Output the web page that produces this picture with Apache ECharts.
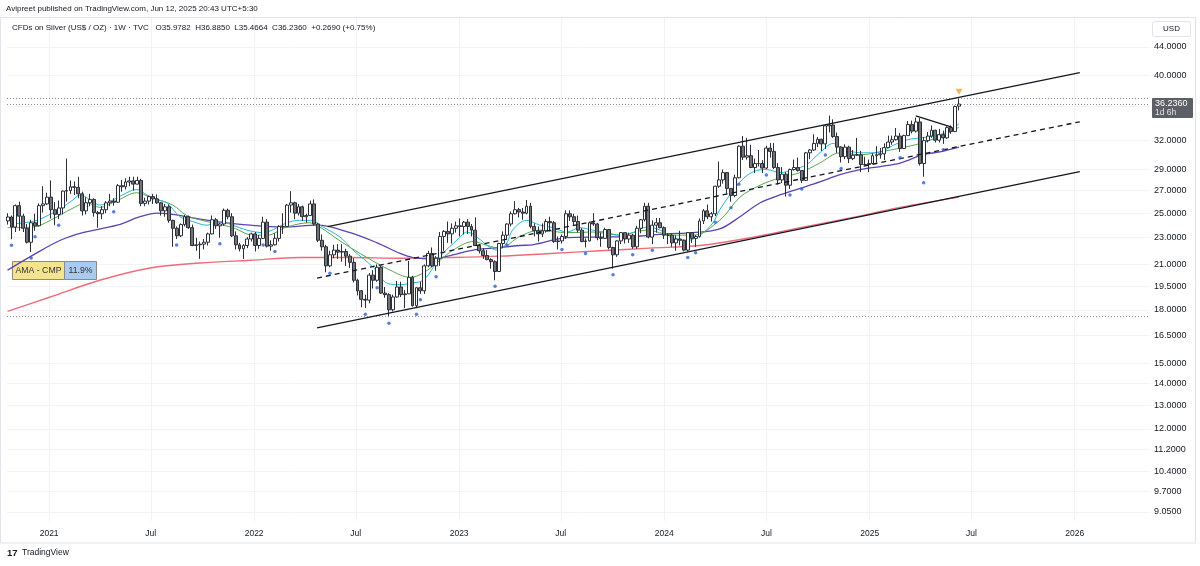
<!DOCTYPE html>
<html>
<head>
<meta charset="utf-8">
<title>CFDs on Silver 1W</title>
<script src="https://cdn.jsdelivr.net/npm/echarts@6/dist/echarts.min.js"></script>
<style>
html, body { margin: 0; padding: 0; background: #fff; }
#chart { width: 1200px; height: 566px; }
</style>
</head>
<body>
<div id="chart"></div>
<script type="text/javascript">
// first Monday of each yearly block of weekly candles
var weekStart = { 2020: '2020-10-19', 2021: '2021-01-04', 2022: '2022-01-03', 2023: '2023-01-02', 2024: '2024-01-01', 2025: '2025-01-06' };

// weekly candles, one row per week: [open, high, low, close]
var candles2020 = [
  [24.35,25.00,24.05,24.68],[24.68,24.80,22.88,23.85],
  [23.85,25.75,23.45,25.65],[25.65,26.00,23.55,24.75],[24.75,24.95,23.45,23.75],[23.75,24.10,22.55,22.65],[22.65,24.45,21.90,24.20],
  [24.20,24.95,23.55,23.95],[23.95,25.85,23.90,25.65],[25.65,27.40,25.05,25.80],[25.80,26.80,25.70,26.40]
];
var candles2021 = [
  [26.40,27.95,24.55,25.30],[25.30,25.95,24.00,24.90],[24.90,26.10,24.50,25.45],[25.45,27.00,24.90,26.95],
  [26.95,30.10,26.00,27.00],[27.00,27.95,26.70,27.35],[27.35,27.85,26.60,27.30],[27.30,28.30,26.30,26.70],
  [26.70,26.90,24.80,25.20],[25.20,26.40,24.90,25.90],[25.90,26.70,25.60,26.20],[26.20,26.30,24.70,25.05],[25.05,25.20,23.80,24.95],
  [24.95,25.60,24.50,25.30],[25.30,26.05,25.00,25.90],[25.90,26.70,25.60,26.05],[26.05,26.30,25.65,25.95],
  [25.95,27.60,25.90,27.45],[27.45,28.00,26.90,27.35],[27.35,28.15,27.10,27.80],[27.80,28.30,27.40,27.90],[27.90,28.30,27.00,27.60],
  [27.60,28.30,27.55,27.95],[27.95,28.10,25.60,25.85],[25.85,26.35,25.60,26.05],[26.05,26.55,25.75,26.45],
  [26.45,26.70,25.80,26.25],[26.25,26.65,25.80,25.90],[25.90,25.95,24.80,25.20],[25.20,25.80,24.70,25.55],
  [25.55,25.75,24.20,24.40],[24.40,24.45,22.30,23.75],[23.75,23.90,22.90,23.15],[23.15,24.15,23.05,24.05],[24.05,24.85,23.90,24.70],
  [24.70,24.80,23.70,23.80],[23.80,24.05,22.35,22.40],[22.40,23.00,22.00,22.45],[22.45,22.70,21.40,22.50],
  [22.50,22.90,22.10,22.65],[22.65,23.40,22.40,23.30],[23.30,24.80,23.25,24.45],[24.45,24.60,23.70,23.95],
  [23.95,24.20,23.00,24.10],[24.10,25.40,23.95,25.25],[25.25,25.40,24.50,24.70],[24.70,25.00,23.05,23.15],[23.15,23.50,22.10,22.45],
  [22.45,22.60,21.95,22.15],[22.15,22.50,21.40,22.40],[22.40,23.05,22.20,22.90],[22.90,23.40,22.70,23.30]
];
var candles2022 = [
  [23.30,23.45,21.95,22.40],[22.40,23.20,22.15,22.95],[22.95,24.70,22.90,24.25],[24.25,24.50,22.25,22.35],[22.35,22.80,22.00,22.45],
  [22.45,23.35,22.40,22.95],[22.95,24.00,22.70,23.90],[23.90,25.00,23.30,23.90],[23.90,25.80,23.90,25.70],
  [25.70,26.95,25.05,25.90],[25.90,26.00,24.50,25.00],[25.00,25.80,24.80,25.55],[25.55,25.65,24.35,24.70],
  [24.70,24.95,24.20,24.80],[24.80,26.10,24.80,25.80],[25.80,26.20,24.00,24.10],[24.10,24.20,22.65,22.80],
  [22.80,23.25,22.00,22.30],[22.30,22.45,20.45,20.90],[20.90,22.00,20.80,21.70],[21.70,22.45,21.45,22.05],[22.05,22.50,21.40,21.90],
  [21.90,22.50,21.20,21.95],[21.95,22.15,20.90,21.60],[21.60,21.75,20.75,21.15],[21.15,21.45,19.75,19.90],
  [19.90,20.00,18.90,19.20],[19.20,19.25,18.15,18.65],[18.65,18.95,18.10,18.60],[18.60,20.40,18.40,20.25],
  [20.25,20.60,19.35,19.90],[19.90,21.00,19.80,20.80],[20.80,20.90,19.00,19.05],[19.05,19.45,18.75,18.95],[18.95,19.05,17.55,18.00],
  [18.00,18.95,17.90,18.80],[18.80,19.85,18.75,19.45],[19.45,19.80,18.80,18.95],[18.95,19.25,18.10,19.00],
  [19.00,21.25,19.00,20.10],[20.10,20.20,18.20,18.25],[18.25,19.45,18.10,19.40],[19.40,19.80,19.00,19.20],[19.20,21.00,19.00,20.90],
  [20.90,22.00,20.80,21.80],[21.80,22.25,20.80,20.90],[20.90,21.60,20.55,21.45],[21.45,23.45,20.90,23.10],
  [23.10,23.60,22.00,23.50],[23.50,24.30,22.60,23.30],[23.30,24.15,22.55,23.75],[23.75,24.30,23.40,23.95]
];
var candles2023 = [
  [23.95,24.55,23.10,23.90],[23.90,24.35,23.25,24.25],[24.25,24.50,23.30,23.90],[23.90,24.10,23.10,23.60],[23.60,24.65,22.35,22.40],
  [22.40,22.50,21.80,22.00],[22.00,22.20,21.40,21.65],[21.65,22.05,21.30,21.35],[21.35,21.45,20.70,21.20],
  [21.20,21.30,19.90,20.50],[20.50,22.60,20.50,22.55],[22.55,23.50,22.20,23.20],[23.20,24.15,22.90,24.10],
  [24.10,25.15,23.90,24.95],[24.95,26.05,24.90,25.30],[25.30,25.45,24.65,25.10],[25.10,25.45,24.45,25.00],
  [25.00,26.15,24.90,25.60],[25.60,25.90,23.75,23.90],[23.90,24.15,23.10,23.55],[23.55,23.90,22.70,23.30],[23.30,24.15,23.05,23.55],
  [23.55,24.50,23.40,24.30],[24.30,24.70,23.50,24.20],[24.20,24.35,22.60,22.70],[22.70,23.10,22.10,22.75],
  [22.75,23.25,22.55,23.10],[23.10,25.25,22.90,24.95],[24.95,25.25,24.35,24.70],[24.70,24.95,24.00,24.30],[24.30,24.80,23.40,23.60],
  [23.60,23.75,22.65,22.70],[22.70,22.95,22.25,22.75],[22.75,24.30,22.70,24.20],[24.20,25.00,23.95,24.10],
  [24.10,24.20,22.80,23.00],[23.00,23.40,22.30,22.95],[22.95,23.80,22.90,23.65],[23.65,23.70,22.10,22.25],
  [22.25,22.30,20.70,21.70],[21.70,22.80,21.55,22.75],[22.75,23.45,22.50,23.40],[23.40,23.40,22.55,22.90],[22.90,23.40,22.60,23.20],
  [23.20,23.30,22.15,22.30],[22.30,23.95,22.15,23.75],[23.75,24.50,23.35,24.45],[24.45,25.90,24.30,25.60],
  [25.60,25.90,22.95,23.05],[23.05,24.40,22.50,24.00],[24.00,24.60,23.40,24.20],[24.20,24.60,23.75,23.80]
];
var candles2024 = [
  [23.80,23.90,22.90,23.20],[23.20,23.35,22.50,23.20],[23.20,23.35,22.30,22.60],[22.60,23.20,22.00,22.90],[22.90,23.55,22.40,22.80],
  [22.80,22.85,21.95,22.05],[22.05,23.45,21.95,23.40],[23.40,23.45,22.60,22.95],[22.95,23.20,22.30,23.10],
  [23.10,24.55,23.00,24.35],[24.35,25.35,24.10,25.20],[25.20,25.75,24.50,24.70],[24.70,25.10,24.30,24.95],
  [24.95,27.45,24.75,27.40],[27.40,29.80,27.25,28.00],[28.00,29.00,27.65,28.70],[28.70,28.75,26.65,27.20],[27.20,27.20,26.00,26.55],
  [26.55,28.50,26.40,28.20],[28.20,31.50,28.15,31.40],[31.40,32.50,29.95,30.25],[30.25,32.30,30.00,30.40],
  [30.40,31.55,29.15,29.20],[29.20,30.10,28.65,29.60],[29.60,31.00,29.30,29.60],[29.60,29.95,28.65,29.15],
  [29.15,31.45,29.05,31.20],[31.20,31.75,30.20,30.85],[30.85,31.75,29.05,29.20],[29.20,29.65,27.55,28.00],[28.00,29.25,27.70,28.55],
  [28.55,28.75,26.45,27.50],[27.50,29.10,27.15,29.00],[29.00,30.00,28.90,29.20],[29.20,30.20,28.80,28.90],
  [28.90,28.95,27.70,27.95],[27.95,30.80,27.90,30.70],[30.70,31.10,30.05,31.00],[31.00,32.70,30.90,31.70],[31.70,32.40,31.30,32.15],
  [32.15,32.20,30.90,31.65],[31.65,33.70,31.10,33.65],[33.65,34.85,32.90,33.75],[33.75,34.40,32.30,32.45],
  [32.45,32.90,30.70,31.30],[31.30,31.40,29.70,30.30],[30.30,31.60,30.05,31.30],[31.30,31.45,29.65,30.10],
  [30.10,31.00,29.95,30.45],[30.45,32.30,30.40,30.50],[30.50,30.90,28.75,29.50],[29.50,30.30,29.40,29.50],[29.50,30.00,28.75,29.60]
];
var candles2025 = [
  [29.60,30.65,29.55,30.40],[30.40,31.40,29.70,30.50],[30.50,31.20,30.10,30.60],[30.60,31.70,29.95,31.25],
  [31.25,32.55,31.20,31.85],[31.85,32.55,31.55,32.10],[32.10,33.40,32.00,32.50],[32.50,32.85,30.80,31.15],
  [31.15,32.65,31.10,32.55],[32.55,34.20,32.55,33.80],[33.80,34.25,32.80,33.05],[33.05,34.60,32.90,34.10],[34.10,34.55,29.40,29.60],
  [29.60,32.40,28.30,32.00],[32.00,32.95,31.80,32.50],[32.50,33.70,32.30,33.15],[33.15,33.20,31.80,32.05],
  [32.05,33.30,31.80,32.65],[32.65,33.10,31.65,32.30],[32.30,33.60,32.20,33.45],[33.45,33.70,32.75,33.00],
  [33.00,36.05,32.95,35.95],[35.9782,36.8850,35.4664,36.2360]
];
var candleYears = { 2020: candles2020, 2021: candles2021, 2022: candles2022, 2023: candles2023, 2024: candles2024, 2025: candles2025 };

// moving averages: [date, price]
var maCyan = [
  ['2020-10-26',24.1],['2020-12-02',24.3],['2020-12-21',24.6],['2021-01-21',25.4],['2021-02-11',26.1],['2021-02-25',26.6],
  ['2021-03-20',26.0],['2021-04-01',25.7],['2021-04-19',26.0],['2021-05-19',26.8],['2021-06-06',27.1],['2021-06-24',26.6],
  ['2021-07-17',26.1],['2021-07-30',25.9],['2021-08-22',24.7],['2021-09-14',24.3],['2021-10-09',24.0],['2021-11-01',24.3],
  ['2021-11-24',24.0],['2021-12-19',23.6],['2022-01-17',23.4],['2022-02-11',23.8],['2022-02-28',24.2],['2022-03-23',24.4],
  ['2022-04-16',24.4],['2022-04-28',24.0],['2022-06-03',23.05],['2022-06-26',22.05],['2022-08-01',20.8],['2022-08-26',19.7],
  ['2022-09-18',19.6],['2022-10-06',19.7],['2022-10-29',19.9],['2022-11-16',20.8],['2022-12-03',21.8],['2022-12-28',22.8],
  ['2023-01-15',23.45],['2023-02-02',23.05],['2023-02-20',22.4],['2023-03-09',22.05],['2023-03-27',22.6],['2023-04-06',23.6],
  ['2023-05-01',24.4],['2023-05-25',24.0],['2023-06-17',23.8],['2023-07-12',23.45],['2023-08-04',23.8],['2023-08-27',23.6],
  ['2023-09-21',23.4],['2023-10-14',23.2],['2023-11-06',23.4],['2023-12-01',23.85],['2023-12-25',23.6],['2024-01-16',23.0],
  ['2024-02-11',22.8],['2024-03-05',23.2],['2024-03-28',24.2],['2024-04-09',25.3],['2024-05-15',27.8],['2024-06-08',28.8],
  ['2024-07-02',29.0],['2024-07-25',28.7],['2024-08-18',29.0],['2024-09-11',29.5],['2024-10-04',30.7],['2024-10-28',31.7],
  ['2024-11-09',31.3],['2024-12-02',30.8],['2024-12-27',30.7],['2025-01-20',30.8],['2025-02-12',31.5],['2025-03-09',32.1],
  ['2025-04-01',32.3],['2025-04-24',32.5],['2025-05-19',32.95],['2025-06-09',33.9]
];
var maGreen = [
  ['2020-10-19',23.8],['2020-12-04',23.85],['2021-01-03',24.4],['2021-02-11',25.4],['2021-03-09',25.9],['2021-04-01',25.5],
  ['2021-05-02',26.1],['2021-06-06',26.8],['2021-06-30',26.4],['2021-08-09',25.7],['2021-09-03',24.8],['2021-10-09',24.3],
  ['2021-11-24',23.8],['2021-12-30',23.2],['2022-01-24',23.2],['2022-02-28',23.85],['2022-04-10',24.2],['2022-04-28',23.85],
  ['2022-06-08',22.6],['2022-07-21',21.5],['2022-08-31',20.6],['2022-10-06',20.1],['2022-10-29',20.4],['2022-11-28',21.3],
  ['2022-12-21',22.05],['2023-01-26',22.7],['2023-02-20',22.4],['2023-03-15',22.2],['2023-04-19',23.1],['2023-05-25',23.6],
  ['2023-07-12',23.4],['2023-08-27',23.45],['2023-10-14',23.2],['2023-12-01',23.6],['2024-01-16',23.2],['2024-02-21',23.2],
  ['2024-04-09',24.4],['2024-05-15',26.4],['2024-06-20',27.5],['2024-07-25',28.2],['2024-08-30',28.7],['2024-10-04',29.65],
  ['2024-11-09',30.7],['2024-12-15',30.5],['2025-01-20',30.8],['2025-02-24',31.2],['2025-04-01',31.7],['2025-05-19',32.8],
  ['2025-06-09',33.5]
];
var maPurple = [
  ['2020-10-19',20.6],['2020-12-04',21.7],['2021-01-21',22.8],['2021-03-02',23.4],['2021-05-02',24.0],['2021-06-12',24.7],
  ['2021-07-12',25.0],['2021-08-09',24.9],['2021-09-14',24.6],['2021-10-27',24.3],['2021-12-25',24.0],['2022-02-21',23.85],
  ['2022-04-23',24.0],['2022-06-21',23.4],['2022-08-08',22.6],['2022-09-18',21.8],['2022-10-11',21.5],['2022-11-16',21.4],
  ['2022-12-21',21.7],['2023-01-26',22.05],['2023-03-02',22.2],['2023-04-19',22.4],['2023-05-12',22.45],['2023-07-12',23.0],
  ['2023-09-09',23.05],['2023-11-06',23.1],['2024-01-05',23.3],['2024-02-21',23.4],['2024-04-09',23.7],['2024-05-15',24.7],
  ['2024-06-20',25.9],['2024-07-25',26.6],['2024-08-30',27.2],['2024-10-04',27.8],['2024-11-09',28.5],['2024-12-15',29.0],
  ['2025-01-20',29.3],['2025-02-24',29.65],['2025-04-06',30.5],['2025-05-06',30.8],['2025-06-09',31.3]
];
var maRed = [
  ['2020-10-19',17.9],['2021-01-03',18.8],['2021-04-01',19.9],['2021-06-30',20.75],['2021-09-27',21.1],['2021-12-25',21.3],
  ['2022-03-23',21.5],['2022-06-21',21.5],['2022-09-18',21.45],['2022-12-16',21.5],['2023-03-15',21.6],['2023-06-12',21.8],
  ['2023-09-09',22.0],['2023-12-06',22.2],['2024-03-05',22.4],['2024-06-02',23.0],['2024-08-30',23.8],['2024-11-27',24.6],
  ['2025-02-24',25.5],['2025-06-09',26.4]
];

// drawings: channel, wedge line, price levels
var channelUpper = [['2022-05-12',23.89],['2026-01-10',40.34]];
var channelMid = [['2022-04-23',20.05],['2026-01-10',34.12]];
var channelLower = [['2022-04-23',16.92],['2026-01-10',28.79]];
var wedgeLine = [['2025-03-24',34.8],['2025-05-27',33.5]];
var levelLines = [36.885, 36.236, 17.56];

// weeks with the small blue marks under the low
var markerWeeks = ['2020-10-26','2020-11-30','2020-12-07','2021-01-18','2021-04-26','2021-08-16','2021-11-01','2022-01-17',
  '2022-02-07','2022-05-16','2022-07-18','2022-08-08','2022-08-29','2022-10-17','2022-10-24','2022-11-21','2023-03-06',
  '2023-03-27','2023-07-03','2023-08-14','2023-10-02','2023-11-06','2023-12-11','2024-02-12','2024-02-26','2024-04-01',
  '2024-04-29','2024-05-13','2024-07-01','2024-08-12','2024-09-02','2024-10-14','2024-11-11','2025-02-24','2025-04-07','2025-05-12'];

// axis ticks
var priceTicks = [9.05, 9.7, 10.4, 11.2, 12, 13, 14, 15, 16.5, 18, 19.5, 21, 23, 25, 27, 29, 32, 40, 44];
var gridLevels = [9.05, 9.7, 10.4, 11.2, 12, 13, 14, 15, 16.5, 18, 19.5, 21, 23, 25, 27, 29, 32, 36, 40, 44];
var timeTicks = ['2021-01-01','2021-07-01','2022-01-01','2022-07-01','2023-01-01','2023-07-01','2024-01-01','2024-07-01',
  '2025-01-01','2025-07-01','2026-01-01'];
var priceMin = 8.774, priceMax = 48.73;
var timeMin = '2020-10-18', timeMax = '2026-05-15';

var FONT = '"Liberation Sans", Arial, sans-serif';
var DAY = 86400000;
function t(s) { return Date.parse(s + 'T00:00:00Z'); }
function pts(arr) { return arr.map(function (p) { return [t(p[0]), Math.log(p[1])]; }); }

// build candle data [time, open, close, low, high] on ln(price)
var candleData = [];
var lowByTime = {};
[2020, 2021, 2022, 2023, 2024, 2025].forEach(function (yr) {
  var start = t(weekStart[yr]);
  candleYears[yr].forEach(function (c, i) {
    var ts = start + i * 7 * DAY;
    candleData.push([ts, Math.log(c[0]), Math.log(c[3]), Math.log(c[2]), Math.log(c[1])]);
    lowByTime[ts] = c[2];
  });
});
var markerData = [];
markerWeeks.forEach(function (d) {
  if (lowByTime[t(d)] !== undefined) markerData.push([t(d), Math.log(lowByTime[t(d)])]);
});
var lastRow = candles2025[candles2025.length - 1];
var lastTime = candleData[candleData.length - 1][0];

var chart = echarts.init(document.getElementById('chart'));

function maLine(data, color, width) {
  return {
    type: 'line', data: pts(data), showSymbol: false, smooth: 0.35, silent: true,
    lineStyle: { color: color, width: width }, z: 3
  };
}
function drawLine(data, dashed) {
  return {
    type: 'line', data: pts(data), showSymbol: false, silent: true,
    lineStyle: { color: '#131722', width: 1.3, type: dashed ? [5, 4] : 'solid' }, z: 5
  };
}

chart.setOption({
  animation: false,
  backgroundColor: '#ffffff',
  textStyle: { fontFamily: FONT },
  grid: { left: 7, right: 50, top: 17, bottom: 45 },
  xAxis: {
    type: 'value',
    min: t(timeMin), max: t(timeMax),
    axisLine: { show: false },
    axisTick: { show: false, customValues: timeTicks.map(t) },
    axisLabel: {
      customValues: timeTicks.map(t),
      margin: 8, fontSize: 8.5, color: '#131722', fontFamily: FONT,
      formatter: function (v) {
        var d = new Date(v);
        return d.getUTCMonth() === 0 ? String(d.getUTCFullYear()) : 'Jul';
      }
    },
    splitLine: { show: true, lineStyle: { color: '#f2f3f7', width: 1 } }
  },
  yAxis: {
    type: 'value', position: 'right',
    min: Math.log(priceMin), max: Math.log(priceMax),
    axisLine: { show: false },
    axisTick: { show: false, customValues: gridLevels.map(Math.log) },
    axisLabel: {
      customValues: priceTicks.map(Math.log),
      margin: 4, fontSize: 9, color: '#131722', fontFamily: FONT,
      formatter: function (v) { return Math.exp(v).toFixed(4); }
    },
    splitLine: { show: true, lineStyle: { color: '#f2f3f7', width: 1 } }
  },
  series: [
    maLine(maRed, '#ef6b78', 1.4),
    maLine(maPurple, '#5e43b0', 1.3),
    maLine(maGreen, '#55a84a', 1),
    maLine(maCyan, '#20b9d2', 1),
    {
      type: 'candlestick', data: candleData,
      barWidth: 3.4, silent: true, z: 4,
      itemStyle: { color: '#ffffff', color0: '#727272', borderColor: '#2a2e39', borderColor0: '#2a2e39', borderWidth: 1 },
      markLine: {
        silent: true, symbol: ['none', 'none'], label: { show: false },
        lineStyle: { type: [1, 2], color: '#8a8d96', width: 1 },
        data: levelLines.map(function (v) { return { yAxis: Math.log(v) }; })
      }
    },
    drawLine(channelUpper, false),
    drawLine(channelMid, true),
    drawLine(channelLower, false),
    drawLine(wedgeLine, false),
    {
      type: 'scatter', data: markerData, symbol: 'circle', symbolSize: 3.5, symbolOffset: [0, 6],
      itemStyle: { color: '#2f5fd6' }, silent: true, z: 6
    },
    {
      type: 'scatter', data: [[lastTime, Math.log(lastRow[1])]], symbol: 'triangle', symbolRotate: 180,
      symbolSize: [7, 6], symbolOffset: [0, -7], itemStyle: { color: '#f5a02a' }, silent: true, z: 6
    }
  ]
});

// overlay texts and boxes
var py = chart.convertToPixel({ yAxisIndex: 0 }, Math.log(lastRow[3]));
chart.setOption({
  graphic: [
    { type: 'rect', silent: true, shape: { x: 0.5, y: 17.5, width: 1195, height: 525.5 },
      style: { fill: 'none', stroke: '#e0e3eb', lineWidth: 1 } },
    { type: 'text', left: 6, top: 5, silent: true,
      style: { text: 'Avipreet published on TradingView.com, Jun 12, 2025 20:43 UTC+5:30', fontSize: 8, fill: '#131722', fontFamily: FONT } },
    { type: 'text', left: 12, top: 24, silent: true,
      style: { text: 'CFDs on Silver (US$ / OZ) \u00b7 1W \u00b7 TVC   O35.9782  H36.8850  L35.4664  C36.2360  +0.2690 (+0.75%)', fontSize: 8, fill: '#131722', fontFamily: FONT } },
    { type: 'rect', silent: true, shape: { x: 1152.5, y: 21.5, width: 38, height: 15, r: 2 },
      style: { fill: '#ffffff', stroke: '#e0e3eb', lineWidth: 1 } },
    { type: 'text', silent: true, x: 1171.5, y: 29,
      style: { text: 'USD', fontSize: 8, fill: '#131722', fontFamily: FONT, align: 'center', verticalAlign: 'middle' } },
    { type: 'rect', silent: true, shape: { x: 12.5, y: 261.5, width: 52, height: 18 },
      style: { fill: '#f4e48e', stroke: '#8a8a8a', lineWidth: 1 } },
    { type: 'rect', silent: true, shape: { x: 64.5, y: 261.5, width: 32, height: 18 },
      style: { fill: '#a9cbf0', stroke: '#8a8a8a', lineWidth: 1 } },
    { type: 'text', silent: true, x: 38.5, y: 271,
      style: { text: 'AMA - CMP', fontSize: 8.7, fill: '#333333', fontFamily: FONT, align: 'center', verticalAlign: 'middle' } },
    { type: 'text', silent: true, x: 80.5, y: 271,
      style: { text: '11.9%', fontSize: 8.7, fill: '#333333', fontFamily: FONT, align: 'center', verticalAlign: 'middle' } },
    { type: 'rect', silent: true, shape: { x: 1152, y: py - 6, width: 41, height: 20, r: 1 },
      style: { fill: '#5d5f66' } },
    { type: 'text', silent: true, x: 1155, y: py - 0.5,
      style: { text: lastRow[3].toFixed(4), fontSize: 9, fill: '#ffffff', fontFamily: FONT, verticalAlign: 'middle' } },
    { type: 'text', silent: true, x: 1155, y: py + 8.5,
      style: { text: '1d 6h', fontSize: 8.5, fill: '#e4e4e4', fontFamily: FONT, verticalAlign: 'middle' } },
    { type: 'text', silent: true, x: 7, y: 553,
      style: { text: '17', fontSize: 9.5, fontWeight: 'bold', fill: '#131722', fontFamily: FONT, verticalAlign: 'middle' } },
    { type: 'text', silent: true, x: 22, y: 553,
      style: { text: 'TradingView', fontSize: 8.5, fill: '#131722', fontFamily: FONT, verticalAlign: 'middle' } }
  ]
});
</script>
</body>
</html>
